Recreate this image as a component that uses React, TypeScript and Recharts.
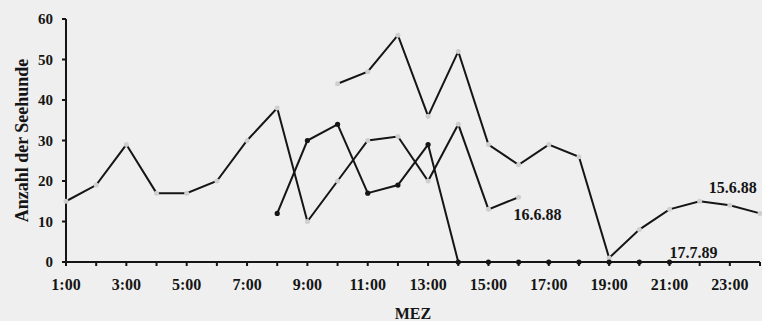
import React from 'react';
import { LineChart, Line, XAxis, YAxis, LabelList } from 'recharts';

// hours of the day (MEZ)
const hours = [
  '1:00', '2:00', '3:00', '4:00', '5:00', '6:00', '7:00', '8:00', '9:00', '10:00', '11:00', '12:00',
  '13:00', '14:00', '15:00', '16:00', '17:00', '18:00', '19:00', '20:00', '21:00', '22:00', '23:00', '24:00',
];

// counts of seals per count day
const day160688 = [15, 19, 29, 17, 17, 20, 30, 38, 10, 20, 30, 31, 20, 34, 13, 16, null, null, null, null, null, null, null, null];
const day150688 = [null, null, null, null, null, null, null, null, null, 44, 47, 56, 36, 52, 29, 24, 29, 26, 1, 8, 13, 15, 14, 12];
const day170789 = [null, null, null, null, null, null, null, 12, 30, 34, 17, 19, 29, 0, 0, 0, 0, 0, 0, 0, 0, null, null, null];

const yTicks = [0, 10, 20, 30, 40, 50, 60];

const data = hours.map((time, i) => ({
  time,
  d160688: day160688[i],
  d150688: day150688[i],
  d170789: day170789[i],
}));

const FONT = '"Liberation Serif", "Times New Roman", serif';
const INK = '#151515';

const tickStyle = { fontFamily: FONT, fontWeight: 700, fontSize: 16, fill: INK };

// draws a series name next to one chosen point of it
const seriesLabel = (text: string, at: number, dx: number, dy: number, anchor: 'start' | 'middle' | 'end') =>
  (props: any) => {
    if (props.index !== at) return null;
    return (
      <text
        x={Number(props.x) + dx}
        y={Number(props.y) + dy}
        textAnchor={anchor}
        fontFamily={FONT}
        fontWeight={700}
        fontSize={16}
        fill={INK}
      >
        {text}
      </text>
    );
  };

const App: React.FC = () => {
  return (
    <div style={{ position: 'absolute', left: 0, top: 0, width: 762, height: 321, background: '#efefef' }}>
      <LineChart width={762} height={321} data={data} margin={{ top: 19, right: 2, bottom: 19, left: 0 }}>
        <XAxis
          dataKey="time"
          interval={0}
          height={40}
          padding={{ left: 0, right: 0 }}
          tickSize={4}
          tickMargin={13}
          tick={tickStyle}
          tickFormatter={(v: string, i: number) => (i % 2 === 0 ? v : '')}
          axisLine={{ stroke: INK, strokeWidth: 2 }}
          tickLine={{ stroke: INK, strokeWidth: 2 }}
          label={{ value: 'MEZ', position: 'bottom', offset: 6, style: { ...tickStyle } }}
        />
        <YAxis
          domain={[0, 60]}
          ticks={yTicks}
          width={66}
          tickSize={4}
          tickMargin={9}
          tick={{ ...tickStyle, fontSize: 15 }}
          axisLine={{ stroke: INK, strokeWidth: 2 }}
          tickLine={{ stroke: INK, strokeWidth: 2 }}
          label={{
            value: 'Anzahl der Seehunde',
            angle: -90,
            position: 'center',
            dx: -11,
            style: { ...tickStyle, fontSize: 18 },
          }}
        />
        <Line
          type="linear"
          dataKey="d160688"
          stroke={INK}
          strokeWidth={2}
          dot={{ r: 2.5, fill: '#cfcfcf', stroke: 'none' }}
          activeDot={false}
          isAnimationActive={false}
        >
          <LabelList dataKey="d160688" content={seriesLabel('16.6.88', 15, -5, 23, 'start')} />
        </Line>
        <Line
          type="linear"
          dataKey="d150688"
          stroke={INK}
          strokeWidth={2}
          dot={{ r: 2.5, fill: '#cfcfcf', stroke: 'none' }}
          activeDot={false}
          isAnimationActive={false}
        >
          <LabelList dataKey="d150688" content={seriesLabel('15.6.88', 22, 3, -12, 'middle')} />
        </Line>
        <Line
          type="linear"
          dataKey="d170789"
          stroke={INK}
          strokeWidth={2}
          dot={{ r: 2.6, fill: INK, stroke: 'none' }}
          activeDot={false}
          isAnimationActive={false}
        >
          <LabelList dataKey="d170789" content={seriesLabel('17.7.89', 20, 0, -4, 'start')} />
        </Line>
      </LineChart>
    </div>
  );
};

export default App;
